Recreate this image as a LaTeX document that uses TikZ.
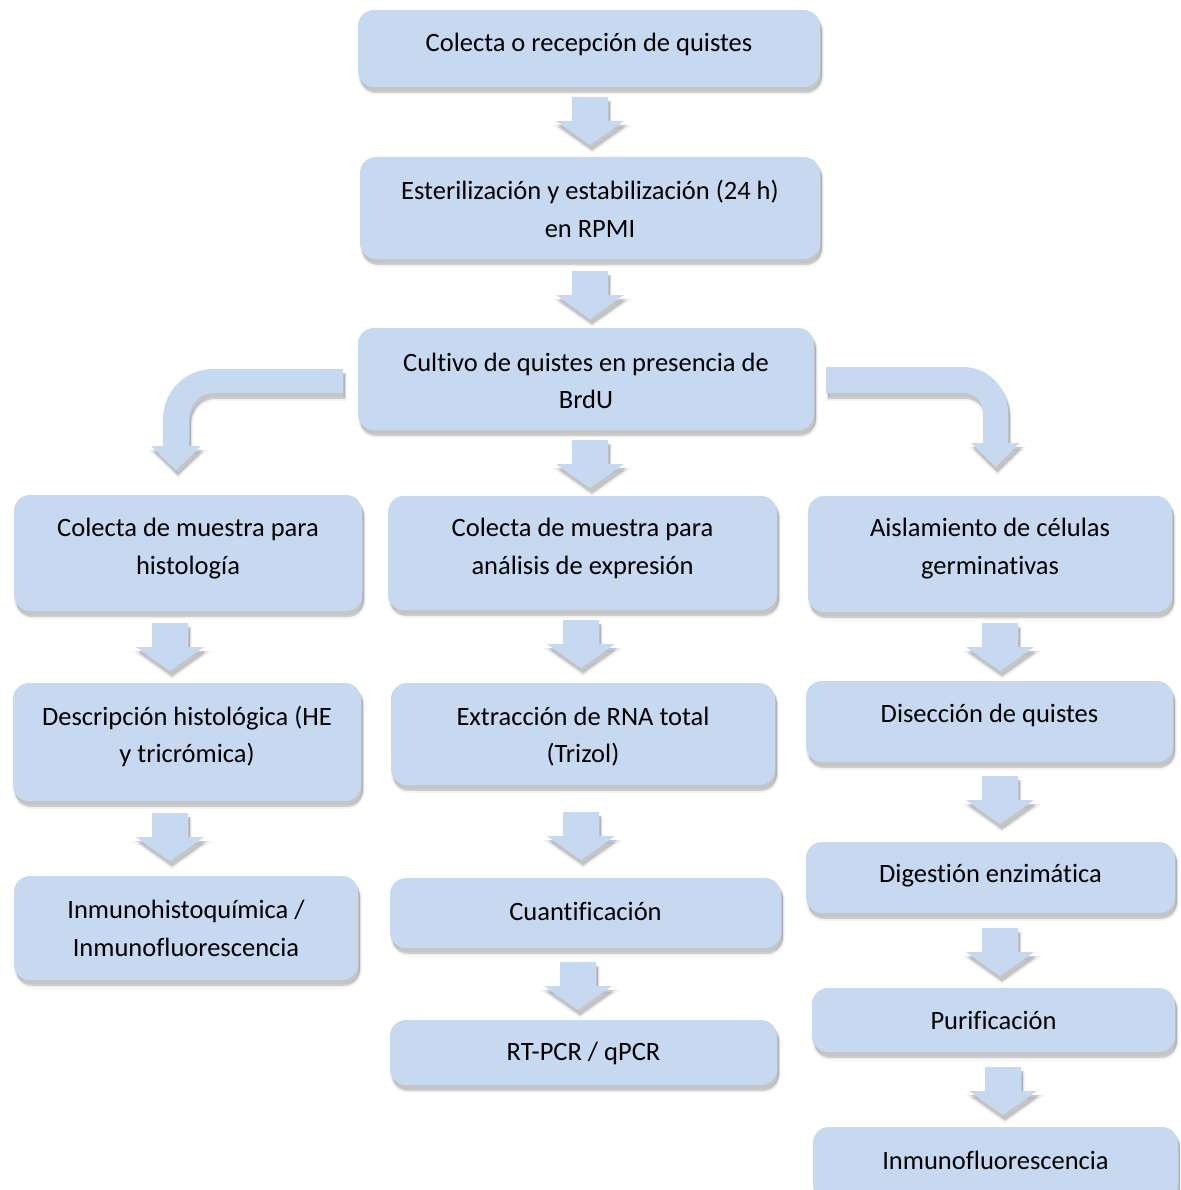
\documentclass[tikz,border=0pt]{standalone}
\usepackage{fontspec}
\setmainfont[RawFeature=-liga]{Carlito}
\definecolor{boxblue}{HTML}{C6D9F1}
\tikzset{
  shd/.style={
    preaction={draw=black,line width=4pt,opacity=0.04,transform canvas={xshift=2pt,yshift=-6pt}},
    preaction={draw=black,line width=2pt,opacity=0.06,transform canvas={xshift=2pt,yshift=-5pt}},
    preaction={fill=black,opacity=0.10,transform canvas={xshift=2pt,yshift=-6pt}},
    preaction={fill=black,opacity=0.14,transform canvas={xshift=2pt,yshift=-4pt}}},
  box/.style={shd,fill=boxblue,rounded corners=16pt,inner sep=0pt,draw=none},
  lbl/.style={align=center,font=\fontsize{26.5}{37.5}\selectfont,text=black,inner sep=0pt},
  blk/.style={shd,fill=boxblue}
}
\newcommand\mkbox[7]{%
  \node[box,minimum width={(#4-#2)*1pt},minimum height={(#5-#3)*1pt}] (#1) at ({(#2+#4)/2},{(#3+#5)/2}) {};
  \node[lbl] (#1-t) at ({(#2+#4)/2},#6) {#7};}
\newcommand\blkdown[2]{%
  \fill[blk] (#1-18,#2) -- (#1+18,#2) -- (#1+18,#2+24) -- (#1+34,#2+24) -- (#1,#2+48)
     -- (#1-34,#2+24) -- (#1-18,#2+24) -- cycle;}
\begin{document}
\begin{tikzpicture}[x=1pt,y=-1pt]
\useasboundingbox (0,0) rectangle (1180,1190);
\clip (0,0) rectangle (1180,1190);
% boxes
\mkbox{b1}{358}{10}{820}{87}{44}{Colecta o recepción de quistes}
\mkbox{b2}{360}{157}{820}{259}{209}{Esterilización y estabilización (24 h)\\en RPMI}
\mkbox{b3}{358}{328}{814}{430}{381}{Cultivo de quistes en presencia de\\BrdU}
\mkbox{l1}{14}{495}{362}{611}{548.5}{Colecta de muestra para\\histología}
\mkbox{m1}{388}{496}{777}{610}{548.5}{Colecta de muestra para\\análisis de expresión}
\mkbox{r1}{808}{496}{1172}{612}{548.5}{Aislamiento de células\\germinativas}
\mkbox{l2}{13}{683}{361}{801}{736.5}{Descripción histológica (HE\\y tricrómica)}
\mkbox{m2}{391}{683}{775}{785}{736.5}{Extracción de RNA total\\(Trizol)}
\mkbox{r2}{806}{681}{1173}{762}{715}{Disección de quistes}
\mkbox{l3}{14}{876}{358}{980}{928.5}{Inmunohistoquímica /\\Inmunofluorescencia}
\mkbox{m3}{390}{878}{781}{948}{911}{Cuantificación}
\mkbox{r3}{806}{842}{1175}{913}{876}{Digestión enzimática}
\mkbox{m4}{390}{1020}{777}{1085}{1053}{RT-PCR / qPCR}
\mkbox{r4}{812}{988}{1175}{1052}{1020}{Purificación}
\mkbox{r5}{813}{1127}{1178}{1200}{1160}{Inmunofluorescencia}
% straight block arrows
\blkdown{590}{97}
\blkdown{590}{271}
\blkdown{590}{440}
\blkdown{170}{623}
\blkdown{170}{813}
\blkdown{581}{620}
\blkdown{581}{812}
\blkdown{578}{962}
\blkdown{1000}{623}
\blkdown{1000}{776}
\blkdown{1000}{928}
\blkdown{1003}{1067}
% curved arrow to the left branch
\fill[blk] (343,369) -- (213,369) .. controls (185.4,369) and (163,391.4) .. (163,419)
  -- (163,446) -- (151,446) -- (176,470) -- (201,446) -- (189,446) -- (189,419)
  .. controls (189,405) and (199,393) .. (213,393) -- (343,393) -- cycle;
% curved arrow to the right branch
\fill[blk] (826,367) -- (963,367) .. controls (987.8,367) and (1008,387.2) .. (1008,412)
  -- (1008,443) -- (1020,443) -- (995.5,467) -- (971,443) -- (983,443) -- (983,412)
  .. controls (983,401) and (974,393) .. (963,393) -- (826,393) -- cycle;
\end{tikzpicture}
\end{document}
